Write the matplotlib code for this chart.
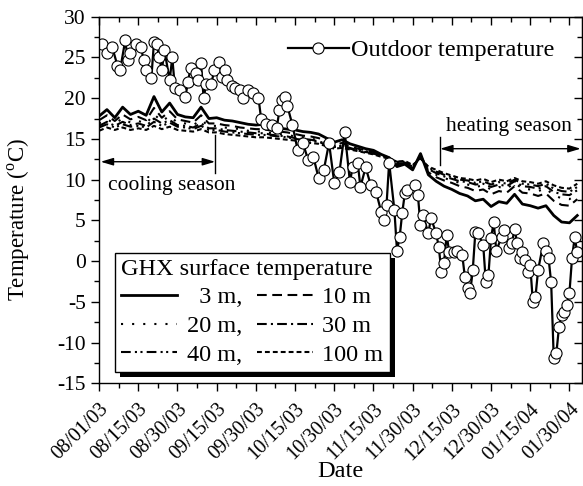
import numpy as np
import matplotlib
matplotlib.use('Agg')
import matplotlib.pyplot as plt
from matplotlib.patches import Rectangle

plt.rcParams['font.family'] = ['Liberation Serif', 'DejaVu Serif']
plt.rcParams['mathtext.fontset'] = 'custom'
plt.rcParams['mathtext.rm'] = 'Liberation Serif'
plt.rcParams['axes.unicode_minus'] = False
plt.rcParams['lines.scale_dashes'] = False

# day numbers counted from 08/01/03
tick_days = [0, 15, 30, 45, 60, 75, 90, 105, 120, 135, 150, 165, 180]
tick_labels = ['08/01/03', '08/15/03', '08/30/03', '09/15/03', '09/30/03',
               '10/15/03', '10/30/03', '11/15/03', '11/30/03', '12/15/03',
               '12/30/03', '01/15/04', '01/30/04']

# outdoor air temperature
out_days = [1, 3, 5, 7, 8, 10, 11, 12, 14, 16, 17, 18, 20, 21, 22, 23, 24, 25,
            27, 28, 29, 31, 33, 34, 35, 37, 38, 39, 40, 41, 43, 44, 46, 47, 48,
            49, 51, 52, 54, 55, 57, 59, 61, 62, 64, 66, 68, 69, 70, 71, 72, 74,
            76, 78, 80, 82, 84, 86, 88, 90, 92, 94, 96, 97, 99, 100, 102, 104,
            106, 108, 109, 110, 111, 113, 114, 115, 116, 117, 118, 121, 122,
            123, 124, 126, 127, 129, 130, 131, 132, 133, 134, 136, 137, 139,
            140, 141, 142, 143, 144, 145, 147, 148, 149, 150, 151, 152, 154,
            155, 157, 158, 159, 160, 161, 162, 163, 164, 165, 166, 167, 168,
            170, 171, 172, 173, 174, 175, 176, 177, 178, 179, 180, 181, 182, 183]
out_temp = [26.7, 25.5, 26.3, 24.0, 23.4, 27.1, 24.7, 25.6, 26.7, 26.3, 24.7,
            23.4, 22.5, 26.9, 26.7, 25.0, 23.4, 25.9, 22.2, 25.0, 21.3, 21.0,
            20.1, 22.0, 23.7, 23.1, 22.2, 24.3, 20.0, 21.8, 21.8, 23.4, 24.4,
            22.6, 23.4, 22.2, 21.5, 21.3, 21.0, 20.0, 21.0, 20.6, 20.0, 17.5,
            16.8, 16.7, 16.4, 18.5, 19.8, 20.2, 19.1, 16.7, 13.6, 14.5, 12.4,
            12.8, 10.2, 11.2, 14.5, 9.6, 11.0, 15.8, 9.7, 11.5, 12.0, 9.1,
            11.5, 9.3, 8.5, 6.0, 5.0, 6.9, 12.1, 6.3, 1.3, 2.9, 5.9, 8.3, 8.7,
            9.3, 8.1, 4.4, 5.6, 3.4, 5.3, 3.4, 1.7, -1.3, -0.2, 3.2, 1.1, 1.1,
            1.3, 0.7, -2.0, -3.3, -3.9, -1.1, 3.6, 3.4, 2.0, -2.6, -1.7, 2.8,
            4.8, 1.3, 2.9, 3.8, 1.6, 2.2, 4.0, 2.2, 0.4, 1.1, 0.1, -1.3, -0.5,
            -5.0, -4.4, -1.1, 2.2, 1.3, 0.4, -2.6, -11.9, -11.3, -8.1, -6.6,
            -6.3, -5.4, -3.9, 0.4, 2.9, 1.1]

# GHX surface temperature, every 3 days
ghx_days = list(range(0, 184, 3))
t_3m = [17.8, 18.6, 17.6, 18.9, 18.0, 18.4, 17.9, 20.2, 18.3, 19.4, 18.0,
        17.7, 17.6, 18.9, 17.5, 17.6, 17.3, 17.2, 17.0, 16.8, 16.7,
        16.8, 16.4, 16.3, 16.2, 16.1, 15.9, 15.8, 15.6, 15.1, 14.6,
        14.9, 14.4, 14.1, 13.8, 13.6, 13.1, 12.7, 11.6, 11.9, 11.2,
        13.2, 10.6, 9.8, 9.2, 8.8, 8.3, 8.0, 7.4, 7.6, 6.7,
        7.3, 7.1, 8.2, 7.0, 6.8, 6.5, 6.8, 5.6, 4.8, 4.7, 5.6]
t_10m = [17.3, 17.9, 17.2, 18.0, 17.4, 17.7, 17.3, 18.8, 17.6, 18.4, 17.4,
         17.2, 17.0, 17.9, 16.9, 16.9, 16.7, 16.6, 16.4, 16.3, 16.2,
         16.2, 16.0, 15.9, 15.8, 15.6, 15.4, 15.3, 15.1, 14.7, 14.3,
         14.5, 14.1, 13.8, 13.6, 13.4, 13.0, 12.7, 11.9, 12.0, 11.4,
         13.0, 10.9, 10.3, 9.9, 9.6, 9.2, 9.0, 8.6, 8.8, 8.2,
         8.6, 8.4, 9.2, 8.4, 8.3, 8.0, 8.3, 7.4, 6.9, 6.8, 7.6]
t_20m = [16.9, 17.4, 16.9, 17.5, 17.0, 17.2, 16.9, 18.0, 17.2, 17.8, 17.0,
         16.9, 16.7, 17.3, 16.6, 16.6, 16.4, 16.3, 16.2, 16.0, 15.9,
         15.9, 15.7, 15.6, 15.5, 15.3, 15.2, 15.0, 14.9, 14.5, 14.1,
         14.3, 14.0, 13.7, 13.5, 13.3, 12.9, 12.6, 12.0, 12.0, 11.5,
         12.9, 11.1, 10.6, 10.2, 9.9, 9.6, 9.4, 9.1, 9.3, 8.8,
         9.1, 8.9, 9.6, 8.9, 8.8, 8.6, 8.9, 8.1, 7.7, 7.6, 8.3]
t_30m = [16.6, 17.1, 16.6, 17.1, 16.7, 16.9, 16.6, 17.5, 16.9, 17.3, 16.7,
         16.6, 16.4, 16.9, 16.3, 16.3, 16.1, 16.0, 15.9, 15.8, 15.7,
         15.7, 15.5, 15.4, 15.3, 15.1, 15.0, 14.9, 14.7, 14.4, 14.0,
         14.2, 13.9, 13.6, 13.4, 13.2, 12.9, 12.6, 12.1, 12.1, 11.6,
         12.8, 11.3, 10.8, 10.4, 10.1, 9.8, 9.7, 9.4, 9.5, 9.1,
         9.4, 9.2, 9.8, 9.2, 9.1, 8.9, 9.2, 8.5, 8.2, 8.1, 8.7]
t_40m = [16.4, 16.8, 16.4, 16.8, 16.5, 16.6, 16.4, 17.1, 16.6, 17.0, 16.5,
         16.4, 16.2, 16.6, 16.1, 16.1, 15.9, 15.8, 15.7, 15.6, 15.5,
         15.5, 15.4, 15.3, 15.2, 15.0, 14.9, 14.8, 14.6, 14.3, 14.0,
         14.1, 13.8, 13.6, 13.4, 13.2, 12.9, 12.6, 12.2, 12.2, 11.7,
         12.7, 11.5, 11.0, 10.6, 10.3, 10.0, 9.9, 9.6, 9.8, 9.4,
         9.7, 9.5, 10.0, 9.5, 9.4, 9.2, 9.5, 8.9, 8.6, 8.5, 9.1]
t_100m = [16.0, 16.4, 16.1, 16.4, 16.1, 16.3, 16.1, 16.6, 16.2, 16.5, 16.1,
          16.0, 15.9, 16.2, 15.8, 15.8, 15.6, 15.5, 15.4, 15.3, 15.2,
          15.2, 15.1, 15.0, 14.9, 14.8, 14.6, 14.5, 14.4, 14.1, 13.8,
          13.9, 13.7, 13.5, 13.3, 13.1, 12.8, 12.6, 12.2, 12.3, 11.8,
          12.6, 11.6, 11.2, 10.8, 10.5, 10.2, 10.1, 9.9, 10.1, 9.7,
          10.0, 9.8, 10.2, 9.8, 9.7, 9.5, 9.8, 9.3, 9.0, 8.9, 9.5]

fig = plt.figure(figsize=(5.83, 4.86), dpi=100)
ax = fig.add_axes([0.170, 0.2113, 0.8278, 0.7543])

h3, = ax.plot(ghx_days, t_3m, 'k-', lw=2.0, label='  3 m,')
h10, = ax.plot(ghx_days, t_10m, 'k', lw=1.5, ls=(0, (7, 4)), label='10 m')
h20, = ax.plot(ghx_days, t_20m, 'k', lw=1.5, ls=(0, (1.5, 6.5)), label='20 m,')
h30, = ax.plot(ghx_days, t_30m, 'k', lw=1.5, ls=(0, (7, 3, 1.5, 3)), label='30 m')
h40, = ax.plot(ghx_days, t_40m, 'k', lw=1.5, ls=(0, (7, 3, 1.5, 2.5, 1.5, 3)), label='40 m,')
h100, = ax.plot(ghx_days, t_100m, 'k', lw=1.5, ls=(0, (3.5, 2.2)), label='100 m')

hout, = ax.plot(out_days, out_temp, 'k-', lw=1.6, marker='o', ms=8,
                mfc='white', mec='black', mew=0.8, label='Outdoor temperature')

ax.set_xlim(0, 184.7)
ax.set_ylim(-15, 30)
ax.set_xticks(tick_days)
ax.set_xticklabels(tick_labels, rotation=45, ha='right', va='top',
                   rotation_mode='anchor', fontsize=14.5)
ax.set_xticks(np.arange(7.5, 184, 15), minor=True)
ax.set_yticks(np.arange(-15, 31, 5))
ax.set_yticks(np.arange(-12.5, 30, 5), minor=True)
ax.tick_params(which='major', direction='out', length=6, width=1)
ax.tick_params(axis='y', which='major', labelsize=15.5)
ax.tick_params(axis='x', which='major', pad=6)
ax.tick_params(which='minor', direction='out', length=3.5, width=1)
for s in ax.spines.values():
    s.set_linewidth(1.0)

top = ax.secondary_xaxis('top')
top.set_xticks(tick_days)
top.set_xticks(np.arange(7.5, 184, 15), minor=True)
top.tick_params(which='major', direction='in', length=6, width=1, labeltop=False)
top.tick_params(which='minor', direction='in', length=3.5, width=1)
right = ax.secondary_yaxis('right')
right.set_yticks(np.arange(-15, 31, 5))
right.set_yticks(np.arange(-12.5, 30, 5), minor=True)
right.tick_params(which='major', direction='in', length=6, width=1, labelright=False)
right.tick_params(which='minor', direction='in', length=3.5, width=1)

ax.set_xlabel('Date', fontsize=17.5, va='center')
ax.xaxis.set_label_coords(0.501, -0.2415)
ax.set_ylabel(r'Temperature ($^{\rm o}$C)', fontsize=16.5)
ax.yaxis.set_label_coords(-0.139, 0.4455)

# season markers
cool_end = 44.4
heat_start = 130.5
arrow = dict(arrowstyle='<|-|>,head_length=0.5,head_width=0.15', color='k',
             lw=1.0, shrinkA=0, shrinkB=0, mutation_scale=15)
ax.annotate('', xy=(cool_end, 12.2), xytext=(0.6, 12.2), arrowprops=arrow)
ax.plot([cool_end, cool_end], [10.8, 15.5], 'k-', lw=1.0)
ax.text(27.6, 9.3, 'cooling season', fontsize=15.5, ha='center', va='center')
ax.annotate('', xy=(184.3, 13.8), xytext=(heat_start, 13.8), arrowprops=arrow)
ax.plot([heat_start, heat_start], [11.8, 15.25], 'k-', lw=1.0)
ax.text(157, 16.5, 'heating season', fontsize=15.5, ha='center', va='center')

leg1 = ax.legend(handles=[hout], loc='center left', bbox_to_anchor=(0.391, 0.909),
                 frameon=False, fontsize=17.5, handlelength=2.5,
                 handletextpad=0.1, borderpad=0, borderaxespad=0)
ax.add_artist(leg1)

leg2 = ax.legend(handles=[h3, h20, h40, h10, h30, h100], ncol=2,
                 title='GHX surface temperature', loc='upper left',
                 bbox_to_anchor=(0.033, 0.356), fontsize=17.5,
                 title_fontsize=17.5, handlelength=2.3, handletextpad=0.4,
                 columnspacing=0.6, labelspacing=0.27, borderpad=0.25,
                 borderaxespad=0, fancybox=False, framealpha=1,
                 edgecolor='black', alignment='left')
leg2.get_frame().set_linewidth(1.0)
leg2.set_zorder(5)

fig.canvas.draw()
bb = leg2.get_window_extent().transformed(ax.transAxes.inverted())
dx = 5 / (ax.bbox.width)
dy = 5 / (ax.bbox.height)
shadow = Rectangle((bb.x0 + dx, bb.y0 - dy), bb.width, bb.height,
                   transform=ax.transAxes, facecolor='black', edgecolor='none',
                   zorder=4.9, clip_on=False)
ax.add_patch(shadow)

fig.savefig('out.png', dpi=100)
